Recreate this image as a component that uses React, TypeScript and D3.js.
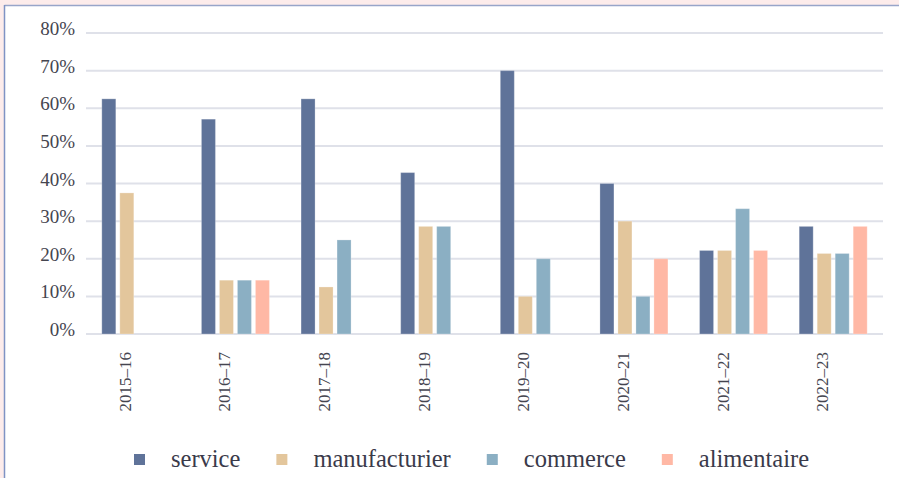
import React, { useEffect, useRef } from "react";
import * as d3 from "d3";

const categories = ["2015–16", "2016–17", "2017–18", "2018–19", "2019–20", "2020–21", "2021–22", "2022–23"];
const seriesNames = ["service", "manufacturier", "commerce", "alimentaire"];
const service = [62.5, 57.1, 62.5, 42.9, 70, 40, 22.2, 28.6];
const manufacturier = [37.5, 14.3, 12.5, 28.6, 10, 30, 22.2, 21.4];
const commerce = [null, 14.3, 25, 28.6, 20, 10, 33.3, 21.4];
const alimentaire = [null, 14.3, null, null, null, 20, 22.2, 28.6];
const yTicks = [0, 10, 20, 30, 40, 50, 60, 70, 80];
const seriesColors = ["#5f7399", "#e3c69c", "#8bafc3", "#ffb8a5"];

const W = 899;
const H = 478;
const SERIF = "'Liberation Serif', 'Times New Roman', Times, serif";

export default function App() {
  const ref = useRef<SVGSVGElement | null>(null);

  useEffect(() => {
    const svg = d3.select(ref.current);
    svg.selectAll("*").remove();
    const seriesValues = [service, manufacturier, commerce, alimentaire];

    // background frame
    svg.append("rect").attr("x", 0).attr("y", 0).attr("width", W).attr("height", H).attr("fill", "#fdeceb");
    svg.append("rect").attr("x", 4.5).attr("y", 5.5).attr("width", W).attr("height", H).attr("fill", "#ffffff");
    svg.append("line").attr("x1", 4.5).attr("x2", W).attr("y1", 5.5).attr("y2", 5.5).attr("stroke", "#98a5c9").attr("stroke-width", 1.6);
    svg.append("line").attr("x1", 4.5).attr("x2", 4.5).attr("y1", 5).attr("y2", H).attr("stroke", "#7f93c4").attr("stroke-width", 1.5);

    const left = 86, right = 883, top = 33, bottom = 334;
    const x0 = d3.scaleBand<string>().domain(categories).range([left, right]).padding(0);
    const groupW = 72;
    const x1 = d3.scaleBand<string>().domain(seriesNames).range([0, groupW]).paddingInner(4 / 18).paddingOuter(2 / 18);
    const y = d3.scaleLinear().domain([0, 80]).range([bottom, top]);

    const g = svg.append("g");
    g.selectAll("line.grid").data(yTicks).enter().append("line")
      .attr("x1", left).attr("x2", right)
      .attr("y1", (d) => y(d)).attr("y2", (d) => y(d))
      .attr("stroke", "#dfe1e9").attr("stroke-width", 2);

    g.selectAll("text.ytick").data(yTicks).enter().append("text")
      .attr("x", 75).attr("y", (d) => y(d) + 2)
      .attr("text-anchor", "end")
      .style("font-family", SERIF)
      .style("font-size", "19px")
      .attr("fill", "#45454f")
      .text((d) => `${d}%`);

    seriesNames.forEach((name, si) => {
      const vals = seriesValues[si];
      g.selectAll(`rect.s${si}`).data(categories.map((c, i) => ({ c, v: vals[i] })).filter((d) => d.v != null))
        .enter().append("rect")
        .attr("x", (d) => (x0(d.c) as number) + x0.bandwidth() / 2 - groupW / 2 + (x1(name) as number))
        .attr("width", x1.bandwidth())
        .attr("y", (d) => y(d.v as number))
        .attr("height", (d) => bottom - y(d.v as number))
        .attr("fill", seriesColors[si])
        .attr("stroke", "rgba(255,255,255,0.25)")
        .attr("stroke-width", 1);
    });

    g.selectAll("text.xtick").data(categories).enter().append("text")
      .attr("transform", (d) => `translate(${(x0(d) as number) + x0.bandwidth() / 2 - 5},352) rotate(-90)`)
      .attr("text-anchor", "end")
      .style("font-family", SERIF)
      .style("font-size", "17px")
      .attr("fill", "#45454f")
      .text((d) => d);

    const lg = svg.append("g");
    let cx = 134;
    seriesNames.forEach((name, si) => {
      lg.append("rect").attr("x", cx).attr("y", 454).attr("width", 11).attr("height", 11).attr("fill", seriesColors[si]);
      const t = lg.append("text")
        .attr("x", cx + 37).attr("y", 467)
        .style("font-family", SERIF)
        .style("font-size", "24.5px")
        .attr("fill", "#3a3a4a")
        .text(name);
      const w = (t.node() as SVGTextElement).getComputedTextLength();
      cx = cx + 37 + w + 36;
    });
  }, []);

  return (
    <div style={{ position: "absolute", left: 0, top: 0, width: W, height: H }}>
      <svg ref={ref} width={W} height={H} style={{ display: "block" }} />
    </div>
  );
}
